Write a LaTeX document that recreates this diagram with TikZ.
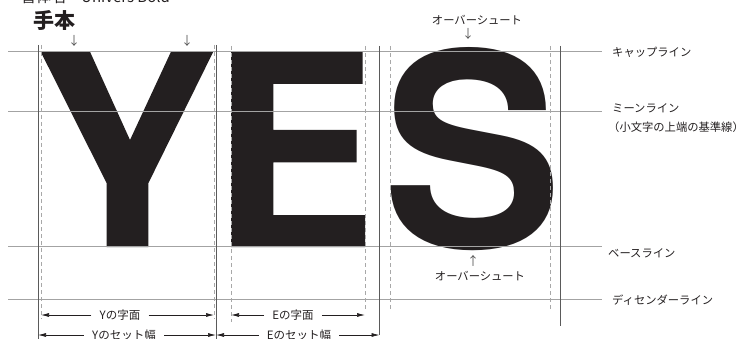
\documentclass[tikz,border=0pt]{standalone}
\usepackage{fontspec}
\setmainfont{Noto Sans CJK JP}
\newfontfamily\heros{TeX Gyre Heros}
\usetikzlibrary{arrows.meta}
\definecolor{ink}{HTML}{231F20}
\definecolor{guide}{HTML}{A3A3A3}
\definecolor{framec}{HTML}{5A5A5A}
\definecolor{dashc}{HTML}{A8A8A8}
\definecolor{arrowc}{HTML}{555555}
\begin{document}
\begin{tikzpicture}[x=1pt,y=-1pt,
  guideline/.style={draw=guide,line width=0.9pt},
  frameline/.style={draw=framec,line width=1pt},
  dashline/.style={draw=dashc,line width=0.8pt,dash pattern=on 4pt off 3pt},
  lbl/.style={font=\fontsize{11.3}{13}\selectfont,text=ink,inner sep=0pt},
  smallarrow/.style={font=\fontsize{12}{12}\selectfont,text=arrowc,inner sep=0pt},
  dim/.style={draw=ink,line width=0.7pt,-{Latex[length=8pt,width=4pt]}},
  dimlbl/.style={font=\fontsize{11.5}{13}\selectfont,text=ink,inner ysep=0pt,inner xsep=8pt},
]
\useasboundingbox (0,0) rectangle (751,339);

% glyphs
\fill[ink] (40.7,51.7) -- (90,51.7) -- (130,140) -- (171,51.7) -- (213.3,51.7)
  -- (148.3,183.3) -- (148.3,247) -- (106.7,247) -- (106.7,183.3) -- cycle;
\fill[ink] (231,51.7) -- (362.7,51.7) -- (362.7,84) -- (273.3,84) -- (273.3,130)
  -- (356.7,130) -- (356.7,162.3) -- (273.3,162.3) -- (273.3,215) -- (365,215)
  -- (365,247) -- (231,247) -- cycle;
\node[anchor=base west,inner sep=0pt,text=ink,font=\heros\bfseries\fontsize{270}{270}\selectfont] (S) at (382,247) {S};

% horizontal guide lines
\draw[guideline] (8,51.7) -- (602,51.7);
\draw[guideline] (8,111) -- (602,111);
\draw[guideline] (8,246.8) -- (602,246.8);
\draw[guideline] (8,299) -- (602,299);

% vertical solid lines
\draw[frameline] (38,45) -- (38,339);
\draw[frameline] (216,45) -- (216,339);
\draw[frameline] (379.5,46) -- (379.5,335);
\draw[frameline] (560,46) -- (560,326);

% vertical dashed lines
\draw[dashline] (41,45) -- (41,319);
\draw[dashline] (214,45) -- (214,319);
\draw[dashline] (231,46) -- (231,322);
\draw[dashline] (365,46) -- (365,310);
\draw[dashline] (390,46) -- (390,310);
\draw[dashline] (550,46) -- (550,310);

% titles
\node[anchor=base west,inner sep=0pt,text=ink,font=\fontsize{15}{15}\selectfont] (title) at (21,3) {書体名・Univers Bold};
\node[text=ink,inner sep=0pt,font=\fontsize{21}{21}\selectfont\bfseries] (tehon) at (54,20) {手本};

% small arrows
\node[smallarrow] (a1) at (74,41) {↓};
\node[smallarrow] (a2) at (187,41) {↓};
\node[smallarrow] (a3) at (468,34) {↓};
\node[smallarrow] (a4) at (473,261) {↑};
\node[lbl] (os1) at (477,20) {オーバーシュート};
\node[lbl] (os2) at (480,276) {オーバーシュート};

% right labels
\node[lbl,anchor=west] (capl) at (612,52) {キャップライン};
\node[lbl,anchor=west] (meanl) at (612,108) {ミーンライン};
\node[lbl,anchor=west] (meanl2) at (608,127) {（小文字の上端の基準線）};
\node[lbl,anchor=west] (basel) at (608,253) {ベースライン};
\node[lbl,anchor=west] (descl) at (612,300) {ディセンダーライン};

% dimension arrows
\coordinate (yfL) at (41,315);
\coordinate (yfR) at (214,315);
\node[dimlbl] (yf) at (120,315) {Yの字面};
\draw[dim] (yf.west) -- (yfL);
\draw[dim] (yf.east) -- (yfR);

\coordinate (efL) at (231,315);
\coordinate (efR) at (365,315);
\node[dimlbl] (ef) at (293,315) {Eの字面};
\draw[dim] (ef.west) -- (efL);
\draw[dim] (ef.east) -- (efR);

\coordinate (ysL) at (38,335);
\coordinate (ysR) at (216,335);
\node[dimlbl] (ys) at (124,335) {Yのセット幅};
\draw[dim] (ys.west) -- (ysL);
\draw[dim] (ys.east) -- (ysR);

\coordinate (esL) at (216,335);
\coordinate (esR) at (379.5,335);
\node[dimlbl] (es) at (299,335) {Eのセット幅};
\draw[dim] (es.west) -- (esL);
\draw[dim] (es.east) -- (esR);
\end{tikzpicture}
\end{document}
